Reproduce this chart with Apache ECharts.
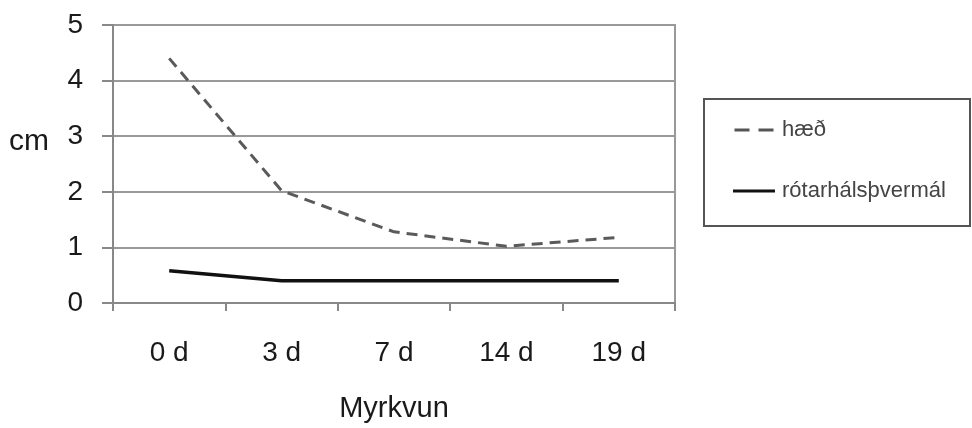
<!DOCTYPE html>
<html>
<head>
<meta charset="utf-8">
<script src="https://cdn.jsdelivr.net/npm/echarts@6/dist/echarts.min.js"></script>
<style>
html,body{margin:0;padding:0;background:#fff;}
#chart{width:972px;height:428px;}
</style>
</head>
<body>
<div id="chart"></div>
<script>
const categories = ['0 d', '3 d', '7 d', '14 d', '19 d'];
const haed = [4.4, 2.02, 1.28, 1.02, 1.18];
const rotarhals = [0.58, 0.4, 0.4, 0.4, 0.4];
const yTicks = [0, 1, 2, 3, 4, 5];

const chart = echarts.init(document.getElementById('chart'), null, {renderer: 'canvas'});
const font = 'Liberation Sans, Arial, sans-serif';
chart.setOption({
  animation: false,
  backgroundColor: '#fff',
  grid: {left: 113, right: 297, top: 25, bottom: 122, show: true, borderColor: '#999', borderWidth: 2, backgroundColor: 'transparent'},
  graphic: [
    {type: 'rect', left: 703, top: 98, shape: {width: 266, height: 127}, style: {fill: '#fff', stroke: '#555', lineWidth: 2}, z: 0},
    {type: 'text', left: 9, top: 127, style: {text: 'cm', font: '30px ' + font, fill: '#1a1a1a'}}
  ],
  legend: {
    orient: 'vertical', left: 733, top: 119, itemWidth: 42, itemHeight: 3, itemGap: 39,
    padding: 0,
    textStyle: {fontFamily: font, fontSize: 22, color: '#444', lineHeight: 22, padding: [0,0,0,2]},
    data: [
      {name: 'hæð', icon: 'path://M0,0h15v3h-15z M24,0h15v3h-15z', itemStyle: {color: '#555'}},
      {name: 'rótarhálsþvermál', icon: 'path://M0,0h42v3h-42z', itemStyle: {color: '#111'}}
    ], z: 5
  },
  xAxis: {
    type: 'category', data: categories, boundaryGap: true,
    name: 'Myrkvun', nameLocation: 'middle', nameGap: 91,
    nameTextStyle: {fontFamily: font, fontSize: 29, color: '#1a1a1a'},
    axisLine: {lineStyle: {color: '#888', width: 2}},
    axisTick: {show: true, length: 8, lineStyle: {color: '#888', width: 2}},
    axisLabel: {fontFamily: font, fontSize: 28, color: '#1a1a1a', margin: 36},
    splitLine: {show: false}
  },
  yAxis: {
    type: 'value', min: 0, max: 5, interval: 1,
    axisLine: {show: true, lineStyle: {color: '#888', width: 2}},
    axisTick: {show: true, length: 11, lineStyle: {color: '#888', width: 2}},
    axisLabel: {fontFamily: font, fontSize: 28, color: '#1a1a1a', margin: 30, formatter: v => String(v)},
    splitLine: {show: true, lineStyle: {color: '#999', width: 2}}
  },
  series: [
    {name: 'hæð', type: 'line', data: haed, symbol: 'none', z: 3,
     lineStyle: {color: '#5a5a5a', width: 3, type: [11, 7]}, itemStyle: {color: '#555'}},
    {name: 'rótarhálsþvermál', type: 'line', data: rotarhals, symbol: 'none', z: 3,
     lineStyle: {color: '#111', width: 3.5}, itemStyle: {color: '#111'}}
  ]
});
</script>
</body>
</html>
